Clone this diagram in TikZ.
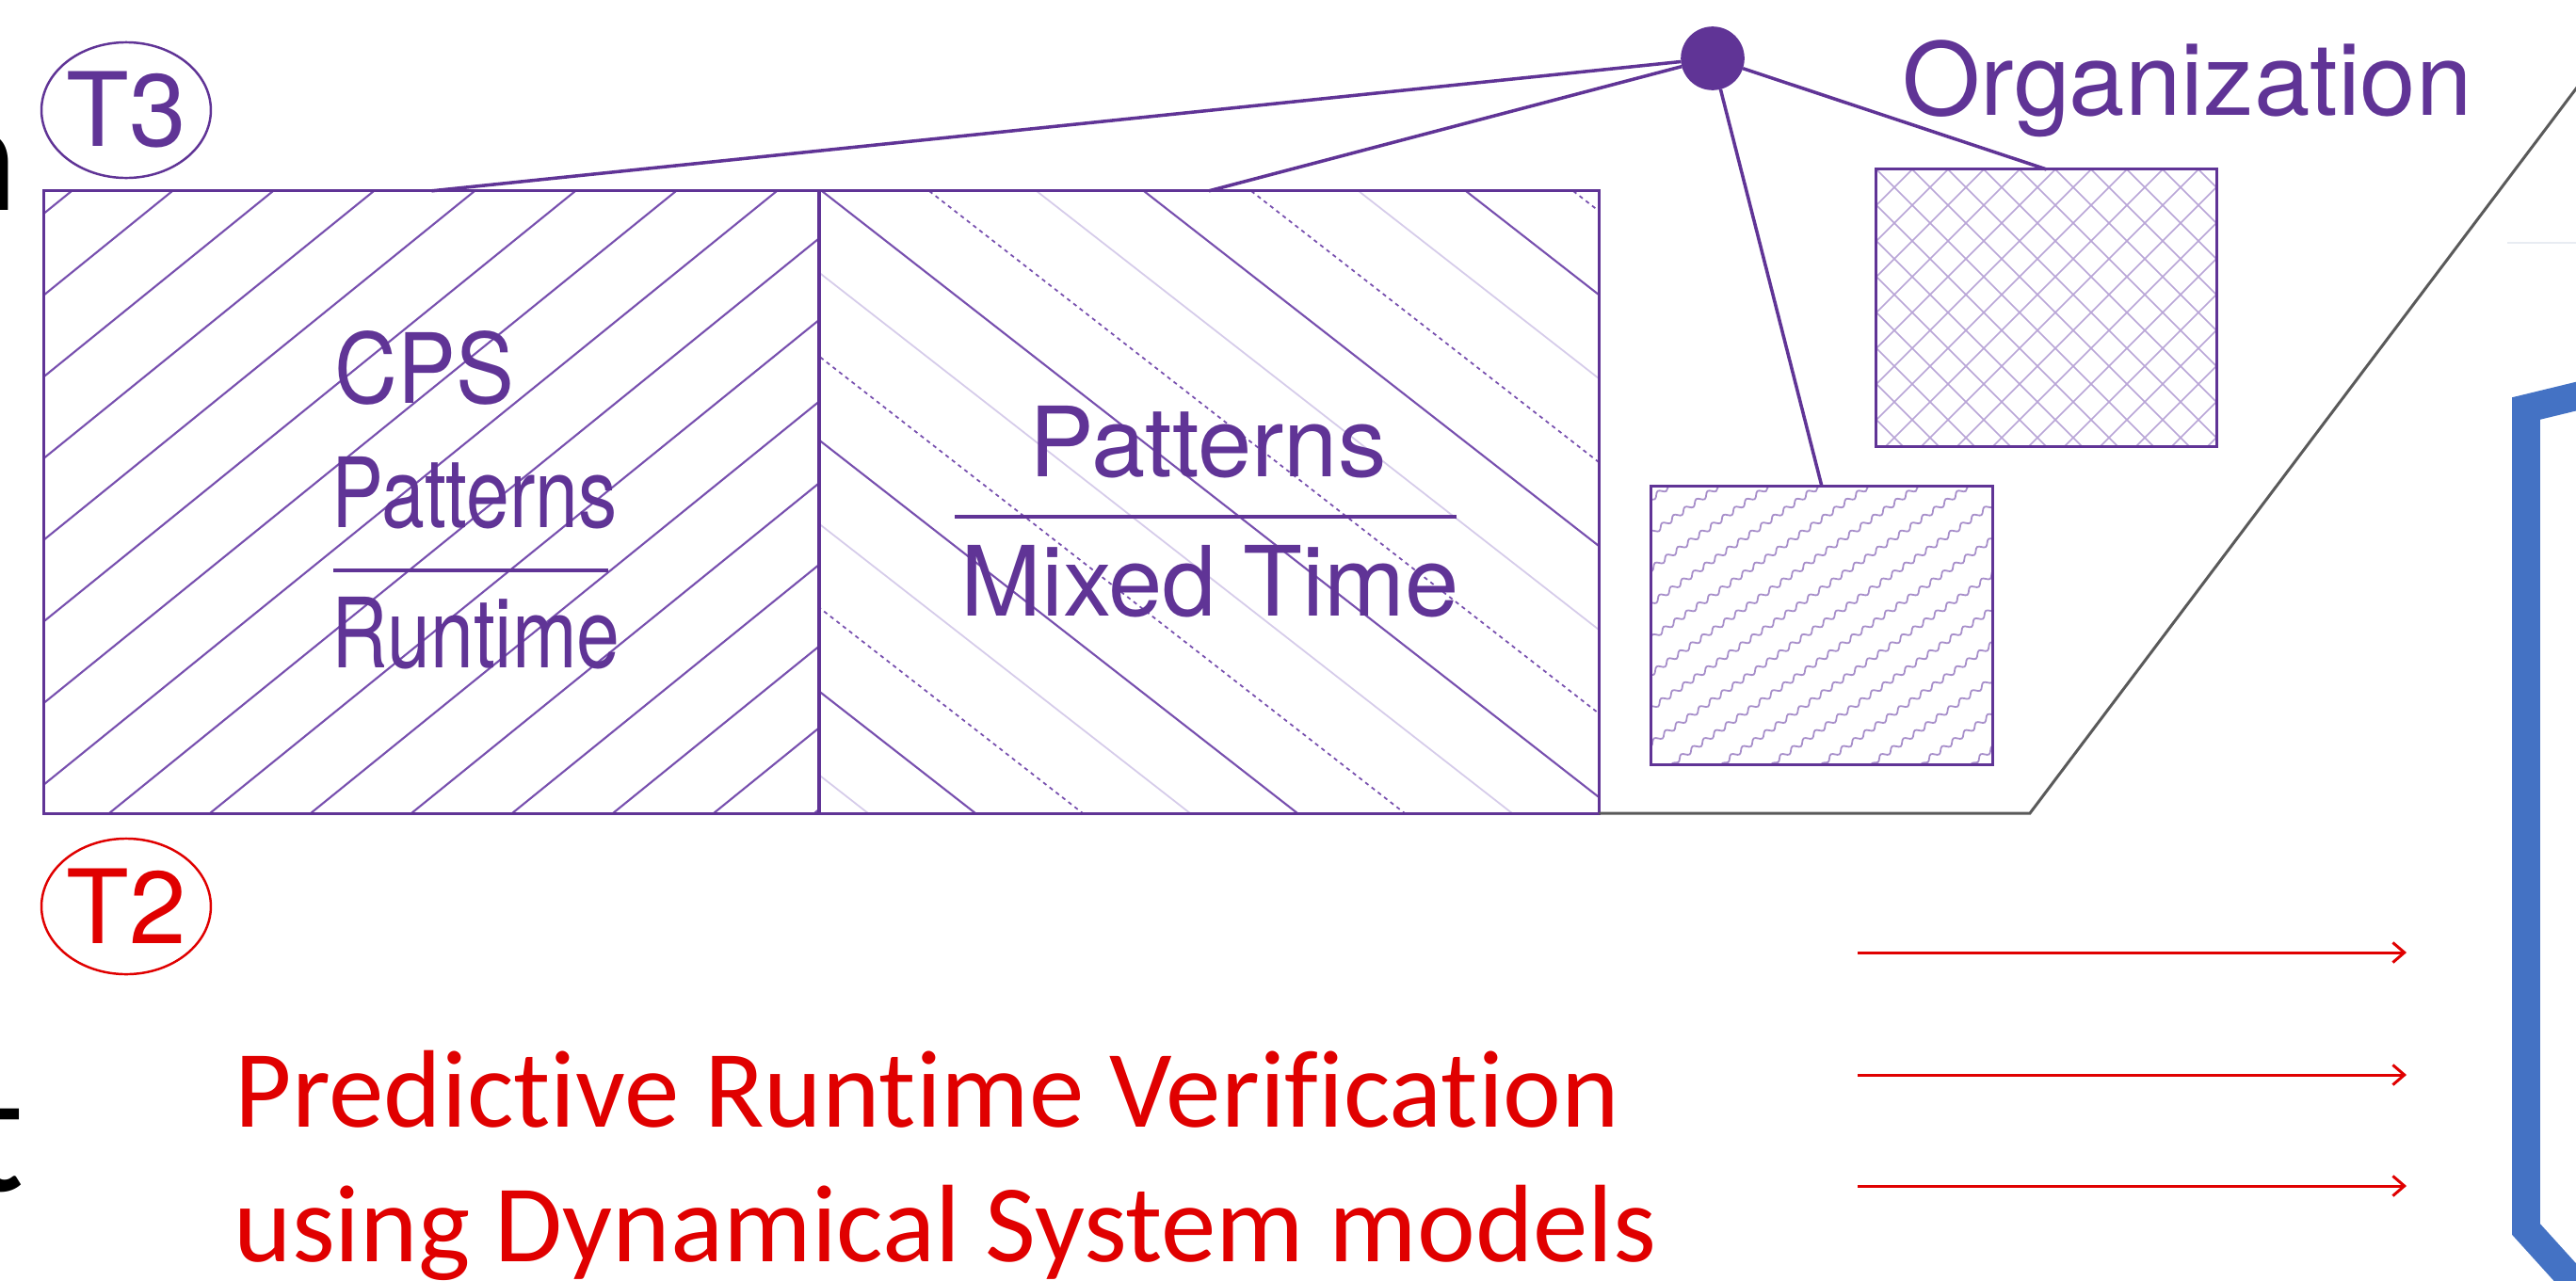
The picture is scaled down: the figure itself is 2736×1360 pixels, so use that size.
\documentclass[tikz,border=0pt]{standalone}
\usepackage{fontspec}
\setmainfont{TeX Gyre Heros}
\newfontfamily\heroscn[FakeStretch=0.8]{TeX Gyre Heros}
\newfontfamily\heroscps[FakeStretch=0.9]{TeX Gyre Heros}
\newfontfamily\calib[Ligatures=NoCommon]{Carlito}
\usetikzlibrary{shapes.geometric,arrows.meta,decorations.pathmorphing}
\definecolor{purp}{RGB}{96,52,150}
\definecolor{purhatch}{RGB}{120,80,175}
\definecolor{purlt}{RGB}{214,204,234}
\definecolor{purxh}{RGB}{185,165,215}
\definecolor{predred}{RGB}{224,0,0}
\definecolor{brkblue}{RGB}{68,114,196}
\definecolor{trapgray}{RGB}{90,90,90}
\definecolor{faintln}{RGB}{232,236,242}
\tikzset{
  hbox/.style={rectangle,draw=purp,line width=0.85pt,inner sep=0pt,outer sep=0pt},
  hsolid/.style={draw=purhatch,line width=0.6pt},
  hdot/.style={draw=purhatch,line width=0.5pt,dash pattern=on 1.2pt off 1.2pt},
  hlight/.style={draw=purlt,line width=0.5pt},
  xh/.style={draw=purxh,line width=0.45pt},
  wavy/.style={draw=purxh!80!purp,line width=0.5pt,
    decorate,decoration={snake,segment length=4.2pt,amplitude=0.75pt}},
  conn/.style={draw=purp,line width=1pt},
  hub/.style={circle,fill=purp,minimum size=1.3pt,inner sep=6.8pt,outer sep=0pt},
  lbl/.style={font=\fontsize{29.3}{35}\selectfont,text=purp,inner sep=0pt},
  lblcn/.style={font=\heroscn\fontsize{29.3}{35}\selectfont,text=purp,inner sep=0pt},
  frac/.style={draw=purp,line width=1.1pt},
  tagc/.style={ellipse,line width=0.7pt,minimum width=1.75cm,minimum height=1.44cm,
    inner sep=0pt,font=\fontsize{31}{36}\selectfont},
  predt/.style={font=\calib\fontsize{33.3}{40}\selectfont,text=predred,inner sep=0pt},
  cut/.style={font=\calib\fontsize{48}{56}\selectfont,text=black,inner sep=0pt},
  rarr/.style={-{Straight Barb[length=3.5pt,width=6pt]},draw=predred,line width=0.85pt},
}
\begin{document}
\begin{tikzpicture}[x=0.01cm,y=-0.01cm]
  \useasboundingbox (0,0) rectangle (2736,1360);
  \clip (0,0) rectangle (2736,1360);
  \fill[white] (0,0) rectangle (2736,1360);

  % hatching of the two big fields
  \begin{scope}
    \clip (47,203) rectangle (870,864);
    \foreach \k in {-1,...,15}
      \draw[hsolid] ({183+107*\k},203) -- ++(-816,661);
  \end{scope}
  \begin{scope}
    \clip (870,203) rectangle (1698,864);
    \foreach \j in {-3,...,2} {
      \draw[hsolid] ({873+342*\j},203) -- ++(847,661);
      \draw[hdot]   ({987+342*\j},203) -- ++(847,661);
      \draw[hlight] ({1101+342*\j},203) -- ++(847,661);
    }
  \end{scope}
  % small boxes
  \begin{scope}
    \clip (1993,180) rectangle (2354,474);
    \foreach \k in {-8,...,17} {
      \draw[xh] ({1993+38*\k},180) -- ++(294,294);
      \draw[xh] ({1993+38*\k},180) -- ++(-294,294);
    }
  \end{scope}
  \begin{scope}
    \clip (1754,517) rectangle (2116,812);
    \foreach \k in {-1,...,14}
      \draw[wavy] ({1825+53*\k},517) -- ++(-421,295);
  \end{scope}

  % boxes
  \node[hbox,minimum width=8.23cm,minimum height=6.61cm] (cps)    at (458.5,533.5) {};
  \node[hbox,minimum width=8.28cm,minimum height=6.61cm] (mixt)   at (1284,533.5) {};
  \node[hbox,minimum width=3.61cm,minimum height=2.94cm] (orgbox) at (2173.5,327) {};
  \node[hbox,minimum width=3.62cm,minimum height=2.95cm] (wavbox) at (1935,664.5) {};

  % frame behind the fields
  \draw[trapgray,line width=0.85pt] (mixt.south east) -- (2156,864) -- (2807,0);
  \draw[faintln,line width=0.6pt] (2663,258) -- (2736,258);

  % labels
  \node[lblcn,font=\heroscps\fontsize{29.3}{35}\selectfont,anchor=base west] (cpst) at (355,428) {CPS};
  \node[lblcn,anchor=base west] (patl)  at (352,560) {Patterns};
  \node[lblcn,anchor=base west] (runt)  at (352,709) {Runtime};
  \draw[frac] (354,606) -- (646,606);
  \node[lbl,anchor=base] (patr)  at (1283,506) {Patterns};
  \node[lbl,anchor=base] (mxdt)  at (1285,654) {Mixed Time};
  \draw[frac] (1014,549) -- (1547,549);
  \node[lbl,font=\fontsize{30.4}{36}\selectfont,anchor=base west] (org) at (2020,122) {Organization};

  \node[tagc,draw=purp,text=purp] (t3) at (134,117) {T3};
  \node[tagc,draw=predred,text=predred] (t2) at (134,963) {T2};

  % hub and its lines
  \node[hub] (hb) at (1819,62) {};
  \draw[conn] (hb) -- (cps.north);
  \draw[conn] (hb) -- (mixt.north);
  \draw[conn] (hb) -- (wavbox.north);
  \draw[conn] (hb) -- (orgbox.north);

  % lower part
  \node[predt,anchor=base west] (pred1) at (249,1197) {Predictive Runtime Verification};
  \node[predt,anchor=base west] (pred2) at (248,1340) {using Dynamical System models};
  \foreach \ya [count=\i] in {1012,1142,1260} {
    \coordinate (rs\i) at (1973,\ya);
    \coordinate (re\i) at (2556,\ya);
    \draw[rarr] (rs\i) -- (re\i);
  }
  \draw[brkblue,line width=8.5pt,line join=miter] (2790,408) -- (2683,434) -- (2683,1306) -- (2750,1380);

  % cut-off words at the left edge
  \node[cut,anchor=base east] (cutn) at (20,223) {n};
  \node[cut,font=\calib\fontsize{53}{60}\selectfont,anchor=base east] (cutt) at (27,1265) {t};
\end{tikzpicture}
\end{document}
